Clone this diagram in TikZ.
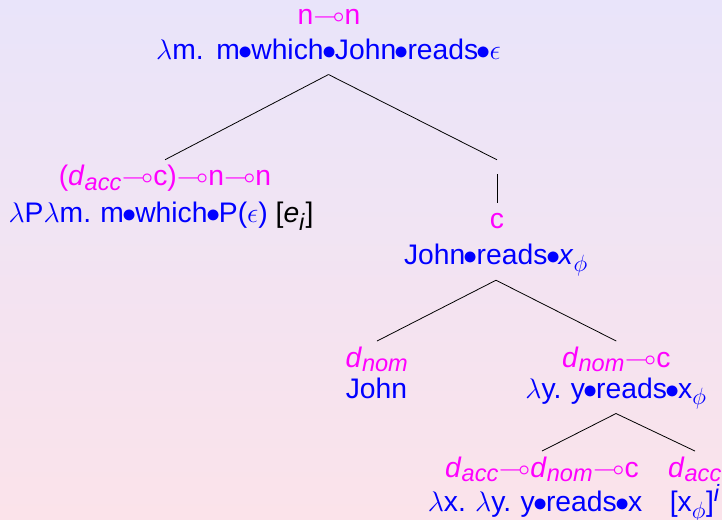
\documentclass[tikz,border=0pt]{standalone}
\usepackage{amssymb}
\usepackage{graphicx}
\usepackage{fontspec}
\setmainfont{Liberation Sans}

\definecolor{bgtop}{HTML}{E9E4FA}
\definecolor{bgbot}{HTML}{FBE3EA}
\definecolor{typecol}{HTML}{FF00FF}
\definecolor{termcol}{HTML}{0000FF}

% linear-logic types and lambda terms
\newcommand\lolli{\mbox{$\multimap$}}
\newcommand\lam{\ensuremath{\lambda}}
\newcommand\lsp{\hspace{0.33em}}
\newcommand\bul{\kern-0.05em\mbox{$\bullet$}\kern-0.05em}
\newcommand\dsub[1]{\textit{d}\textsubscript{\textit{#1}}}

\tikzset{
  typebox/.style={anchor=base, text=typecol, inner xsep=0pt, inner ysep=6.2pt,
                  text height=16.7pt, text depth=6.2pt},
  termbox/.style={anchor=base, text=termcol, inner xsep=0pt, inner ysep=7pt,
                  text height=16.7pt, text depth=6.2pt},
  gapnode/.style={inner sep=0pt, minimum height=12.3pt, minimum width=0pt},
  branch/.style={draw=black, line width=0.7pt},
}

\begin{document}
\begin{tikzpicture}[x=0.88pt, y=-0.88pt, font=\Huge]
  \useasboundingbox (0,0) rectangle (722,520);
  \shade[top color=bgtop, bottom color=bgbot] (0,0) rectangle (722,520);

  % root
  \node[typebox] (rootT) at (329,24.5) {n\lolli n};
  \node[termbox] (rootE) at (328.5,59.3) {\lam m.\hspace{0.45em}m\bul which\bul John\bul reads\bul$\epsilon$};

  % relative pronoun
  \node[typebox] (relT) at (165,186) {(\dsub{acc}\lolli c)\lolli n\lolli n};
  \node[termbox] (relE) at (161,222.7) {\lam P\lam m.\lsp m\bul which\bul P($\epsilon$) \textcolor{black}{[\textit{e}\textsubscript{\textit{i}}]}};

  % empty node above the clause
  \node[gapnode] (hole) at (497,167) {};

  % clause
  \node[typebox] (cT) at (497,229) {c};
  \node[termbox] (cE) at (496,265) {John\bul reads\bul\textit{x}\textsubscript{$\phi$}};

  % subject
  \node[typebox] (subjT) at (377,367.3) {\dsub{nom}};
  \node[termbox] (subjE) at (376.5,398.3) {John};

  % verb phrase
  \node[typebox] (vpT) at (616.3,367.3) {\dsub{nom}\lolli c};
  \node[termbox] (vpE) at (616,398.3) {\lam y.\lsp y\bul reads\bul x\textsubscript{$\phi$}};

  % verb
  \node[typebox] (vT) at (542,477.3) {\dsub{acc}\lolli\dsub{nom}\lolli c};
  \node[termbox] (vE) at (535,511.7) {\lam x.\lsp\lam y.\lsp y\bul reads\bul x};

  % object hypothesis
  \node[typebox] (objT) at (695,477.3) {\dsub{acc}};
  \node[termbox] (objE) at (695,511.7) {[x\textsubscript{$\phi$}]\textsuperscript{\textit{i}}};

  % branches
  \draw[branch] (rootE.south) -- (relT.north);
  \draw[branch] (rootE.south) -- (hole.north);
  \draw[branch] (hole.south) -- (cT.north);
  \draw[branch] (cE.south) -- (subjT.north);
  \draw[branch] (cE.south) -- (vpT.north);
  \draw[branch] (vpE.south) -- (vT.north);
  \draw[branch] (vpE.south) -- (objT.north);
\end{tikzpicture}
\end{document}
